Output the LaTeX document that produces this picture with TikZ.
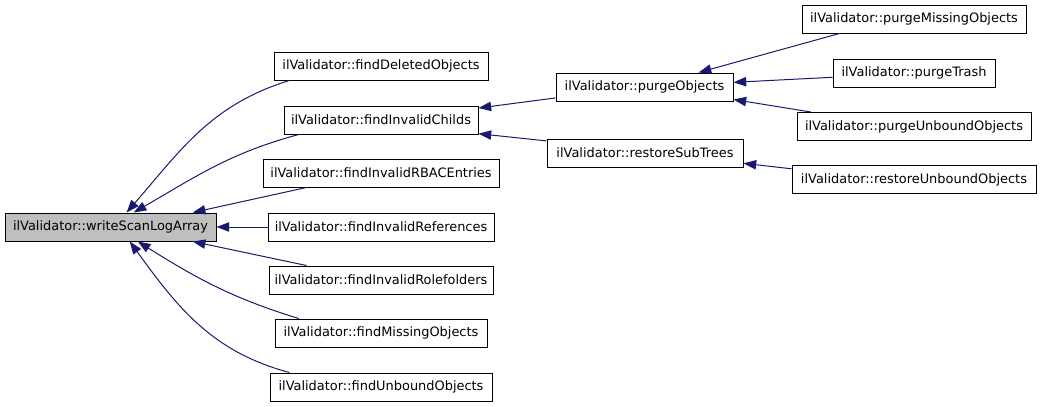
\documentclass[tikz,border=0pt]{standalone}
\usepackage{fontspec}
\setmainfont{DejaVu Sans}
\usetikzlibrary{arrows.meta}
\definecolor{callblue}{HTML}{191970}
\begin{document}
\begin{tikzpicture}
[x=0.75pt,y=-0.75pt,
  fnbox/.style={shape=rectangle,draw=black,line width=0.75pt,inner sep=0pt,
    minimum height=21pt,font=\fontsize{9.7}{11.6}\selectfont},%
  calls/.style={-{Triangle[length=9.5pt,width=7pt]},draw=callblue,line width=0.75pt}]
\useasboundingbox (0,0) rectangle (1043,407);
% nodes or vertices
\node (write) at (110.5,227) [fnbox,fill=black!25,minimum width=158.25pt] {ilValidator::writeScanLogArray};
\node (fdel) at (381,66) [fnbox,minimum width=160.5pt] {ilValidator::findDeletedObjects};
\node (fchild) at (381,120) [fnbox,minimum width=145.5pt] {ilValidator::findInvalidChilds};
\node (frbac) at (381,173) [fnbox,minimum width=177pt] {ilValidator::findInvalidRBACEntries};
\node (fref) at (381,227) [fnbox,minimum width=169.5pt] {ilValidator::findInvalidReferences};
\node (frole) at (381,280) [fnbox,minimum width=168pt] {ilValidator::findInvalidRolefolders};
\node (fmiss) at (381,333) [fnbox,minimum width=159pt] {ilValidator::findMissingObjects};
\node (funb) at (381,387) [fnbox,minimum width=166.5pt] {ilValidator::findUnboundObjects};
\node (purge) at (644.5,87) [fnbox,minimum width=132.75pt] {ilValidator::purgeObjects};
\node (rsub) at (645,153) [fnbox,minimum width=147pt] {ilValidator::restoreSubTrees};
\node (pmiss) at (914,19) [fnbox,minimum width=168pt] {ilValidator::purgeMissingObjects};
\node (ptrash) at (914,73) [fnbox,minimum width=121.5pt] {ilValidator::purgeTrash};
\node (punb) at (914,126.5) [fnbox,minimum width=175.5pt] {ilValidator::purgeUnboundObjects};
\node (runb) at (914,179.5) [fnbox,minimum width=183pt] {ilValidator::restoreUnboundObjects};
% edges or lines
\path
(fdel.189) edge[calls,out=197,in=49] (write.42)
(fchild.190) edge[calls,out=195,in=30] (write.32)
(frbac.191) edge[calls] (write.10)
(fref) edge[calls] (write)
(frole.169) edge[calls] (write.-10)
(fmiss.170) edge[calls,out=163,in=-32] (write.-28)
(funb.171) edge[calls,out=165,in=-54] (write.-37)
(purge.187) edge[calls] (fchild.7)
(rsub.173) edge[calls] (fchild.-8)
(pmiss.191) edge[calls] (purge.15)
(ptrash.183) edge[calls] (purge.3)
(punb.172) edge[calls] (purge.-8)
(runb.175) edge[calls] (rsub.-6);
\end{tikzpicture}
\end{document}
